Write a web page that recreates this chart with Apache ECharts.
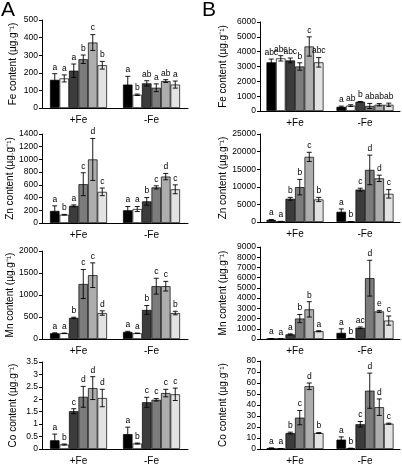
<!DOCTYPE html>
<html><head><meta charset="utf-8">
<script src="https://cdn.jsdelivr.net/npm/echarts@6/dist/echarts.min.js"></script>
<style>html,body{margin:0;padding:0;background:#fff}#c{width:402px;height:466px}</style>
</head><body><div id="c"></div>
<script>
const categories = ['+Fe', '-Fe'];
const barColors = ['#000000', '#ffffff', '#3c3c3c', '#7c7c7c', '#adadad', '#e2e2e2'];

// Panel A - Fe
const aFePlus = [160, 168, 212, 277, 372, 243];
const aFePlusErr = [35, 20, 38, 24, 45, 22];
const aFePlusLet = ['a', 'a', 'a', 'b', 'c', 'b'];
const aFeMinus = [133, 75, 140, 115, 153, 133];
const aFeMinusErr = [47, 4, 15, 22, 8, 20];
const aFeMinusLet = ['a', 'b', 'ab', 'a', 'ab', 'a'];
// Panel B - Fe
const bFePlus = [3280, 3550, 3410, 3000, 4350, 3280];
const bFePlusErr = [220, 180, 160, 250, 650, 320];
const bFePlusLet = ['abc', 'abc', 'abc', 'b', 'c', 'abc'];
const bFeMinus = [280, 360, 620, 340, 420, 420];
const bFeMinusErr = [50, 60, 20, 170, 80, 110];
const bFeMinusLet = ['a', 'ab', 'b', 'ab', 'ab', 'ab'];
// Panel A - Zn
const aZnPlus = [190, 130, 270, 610, 1000, 490];
const aZnPlusErr = [80, 5, 15, 180, 330, 60];
const aZnPlusLet = ['a', 'b', 'a', 'c', 'd', 'c'];
const aZnMinus = [200, 220, 340, 560, 730, 530];
const aZnMinusErr = [60, 40, 60, 25, 50, 70];
const aZnMinusLet = ['a', 'a', 'b', 'c', 'd', 'c'];
// Panel B - Zn
const bZnPlus = [600, 150, 6600, 9900, 18500, 6400];
const bZnPlusErr = [100, 30, 400, 2200, 1300, 600];
const bZnPlusLet = ['a', 'a', 'b', 'b', 'c', 'b'];
const bZnMinus = [2900, 100, 9200, 14800, 12400, 8000];
const bZnMinusErr = [800, 30, 400, 4200, 900, 1200];
const bZnMinusLet = ['a', 'b', 'c', 'd', 'd', 'c'];
// Panel A - Mn
const aMnPlus = [130, 130, 480, 1250, 1450, 590];
const aMnPlusErr = [10, 5, 15, 330, 280, 50];
const aMnPlusLet = ['a', 'a', 'b', 'c', 'c', 'd'];
const aMnMinus = [160, 130, 660, 1200, 1200, 590];
const aMnMinusErr = [15, 5, 100, 180, 110, 40];
const aMnMinusLet = ['a', 'a', 'b', 'c', 'c', 'b'];
// Panel B - Mn
const bMnPlus = [30, 10, 450, 2000, 2900, 760];
const bMnPlusErr = [10, 5, 50, 400, 750, 50];
const bMnPlusLet = ['a', 'a', 'a', 'b', 'b', 'a'];
const bMnMinus = [600, 50, 1100, 5950, 2700, 1800];
const bMnMinusErr = [400, 10, 80, 1750, 100, 450];
const bMnMinusLet = ['a', 'b', 'ac', 'd', 'e', 'c'];
// Panel A - Co
const aCoPlus = [0.35, 0.18, 1.52, 2.1, 2.45, 2.05];
const aCoPlusErr = [0.25, 0.02, 0.1, 0.42, 0.46, 0.35];
const aCoPlusLet = ['a', 'b', 'c', 'd', 'd', 'd'];
const aCoMinus = [0.6, 0.22, 1.88, 1.98, 2.25, 2.2];
const aCoMinusErr = [0.28, 0.02, 0.2, 0.05, 0.15, 0.25];
const aCoMinusLet = ['a', 'b', 'c', 'c', 'c', 'c'];
// Panel B - Co
const bCoPlus = [0.8, 0.3, 14.5, 28.5, 57, 14.5];
const bCoPlusErr = [0.2, 0.1, 0.8, 6.5, 3, 0.4];
const bCoPlusLet = ['a', 'a', 'b', 'c', 'd', 'b'];
const bCoMinus = [8.5, 0.6, 22.5, 53, 38, 23];
const bCoMinusErr = [2.5, 0.1, 2.5, 16, 7.5, 0.5];
const bCoMinusLet = ['a', 'b', 'c', 'd', 'd', 'c'];

const yTicks = {
  aFe: [0, 500, 100], bFe: [0, 6000, 1000],
  aZn: [0, 1400, 200], bZn: [0, 25000, 5000],
  aMn: [0, 2000, 500], bMn: [0, 9000, 1000],
  aCo: [0, 3.5, 0.5], bCo: [0, 80, 10]
};

const BW = 9.5;
const FONT = 'Liberation Sans, Arial, sans-serif';

const panels = [
  {key:'aFe', name:'Fe content (µg.g⁻¹)', col:0, top:20, h:88, p:aFePlus, pe:aFePlusErr, pl:aFePlusLet, m:aFeMinus, me:aFeMinusErr, ml:aFeMinusLet},
  {key:'bFe', name:'Fe content (µg.g⁻¹)', col:1, top:22, h:89, p:bFePlus, pe:bFePlusErr, pl:bFePlusLet, m:bFeMinus, me:bFeMinusErr, ml:bFeMinusLet},
  {key:'aZn', name:'Zn content (µg.g⁻¹)', col:0, top:134, h:89, p:aZnPlus, pe:aZnPlusErr, pl:aZnPlusLet, m:aZnMinus, me:aZnMinusErr, ml:aZnMinusLet},
  {key:'bZn', name:'Zn content (µg.g⁻¹)', col:1, top:134, h:88, p:bZnPlus, pe:bZnPlusErr, pl:bZnPlusLet, m:bZnMinus, me:bZnMinusErr, ml:bZnMinusLet},
  {key:'aMn', name:'Mn content (µg.g⁻¹)', col:0, top:251, h:88, p:aMnPlus, pe:aMnPlusErr, pl:aMnPlusLet, m:aMnMinus, me:aMnMinusErr, ml:aMnMinusLet},
  {key:'bMn', name:'Mn content (µg.g⁻¹)', col:1, top:247, h:92, p:bMnPlus, pe:bMnPlusErr, pl:bMnPlusLet, m:bMnMinus, me:bMnMinusErr, ml:bMnMinusLet},
  {key:'aCo', name:'Co content (µg.g⁻¹)', col:0, top:362, h:87, p:aCoPlus, pe:aCoPlusErr, pl:aCoPlusLet, m:aCoMinus, me:aCoMinusErr, ml:aCoMinusLet},
  {key:'bCo', name:'Co content (µg.g⁻¹)', col:1, top:361, h:88, p:bCoPlus, pe:bCoPlusErr, pl:bCoPlusLet, m:bCoMinus, me:bCoMinusErr, ml:bCoMinusLet}
];

const colGeom = [{left:42, width:146, nameGap:24}, {left:260, width:140, nameGap:32}];

const grid = [], xAxis = [], yAxis = [], series = [];
panels.forEach((pn, i) => {
  const g = colGeom[pn.col];
  grid.push({left:g.left, width:g.width, top:pn.top, height:pn.h, containLabel:false});
  xAxis.push({type:'category', gridIndex:i, data:categories,
    axisLine:{lineStyle:{color:'#000', width:1}}, axisTick:{show:false},
    axisLabel:{color:'#000', fontSize:10, fontFamily:FONT, margin:7}});
  const t = yTicks[pn.key];
  yAxis.push({type:'value', gridIndex:i, min:t[0], max:t[1], interval:t[2],
    name:pn.name, nameLocation:'middle', nameGap:g.nameGap, nameRotate:90,
    nameTextStyle:{color:'#000', fontSize:10, fontFamily:FONT},
    axisLine:{show:true, lineStyle:{color:'#000', width:1}},
    axisTick:{show:true, length:3, lineStyle:{color:'#000'}},
    splitLine:{show:false},
    axisLabel:{color:'#000', fontSize:8.5, fontFamily:FONT, margin:4,
      formatter:function(v){ return String(v); }}});
  for (let b = 0; b < 6; b++) {
    series.push({type:'bar', xAxisIndex:i, yAxisIndex:i, barWidth:BW, barGap:'0%',
      data:[pn.p[b], pn.m[b]], silent:true,
      itemStyle:{color:barColors[b], borderColor:'#000', borderWidth:0.7}});
  }
  const data = [], lets = [];
  for (let b = 0; b < 6; b++) {
    data.push([0, b, pn.p[b], pn.pe[b]]); lets.push(pn.pl[b]);
    data.push([1, b, pn.m[b], pn.me[b]]); lets.push(pn.ml[b]);
  }
  series.push({type:'custom', xAxisIndex:i, yAxisIndex:i, data:data, encode:{x:0, y:2},
    silent:true, z:10, clip:false,
    renderItem:function(params, api){
      const cat = api.value(0), b = api.value(1), v = api.value(2), e = api.value(3);
      const c = api.coord([cat, v]);
      const x = c[0] + (b - 2.5) * BW;
      const yt = api.coord([cat, v + e])[1];
      const yb = api.coord([cat, Math.max(v - e, 0)])[1];
      const w = 2.5;
      const ls = {stroke:'#000', lineWidth:0.9};
      return {type:'group', children:[
        {type:'line', shape:{x1:x, y1:yt, x2:x, y2:yb}, style:ls},
        {type:'line', shape:{x1:x-w, y1:yt, x2:x+w, y2:yt}, style:ls},
        {type:'line', shape:{x1:x-w, y1:yb, x2:x+w, y2:yb}, style:ls},
        {type:'text', x:x, y:yt - 2, style:{text:lets[params.dataIndex], fill:'#000',
          font:'8.5px ' + FONT, textAlign:'center', textVerticalAlign:'bottom'}}
      ]};
    }});
});

const chart = echarts.init(document.getElementById('c'), null, {renderer:'canvas'});
chart.setOption({
  animation:false,
  backgroundColor:'#fff',
  grid:grid, xAxis:xAxis, yAxis:yAxis, series:series,
  graphic:[
    {type:'text', left:1, top:0, style:{text:'A', font:'21px ' + FONT, fill:'#000'}},
    {type:'text', left:202, top:0, style:{text:'B', font:'21px ' + FONT, fill:'#000'}}
  ]
});
</script></body></html>
